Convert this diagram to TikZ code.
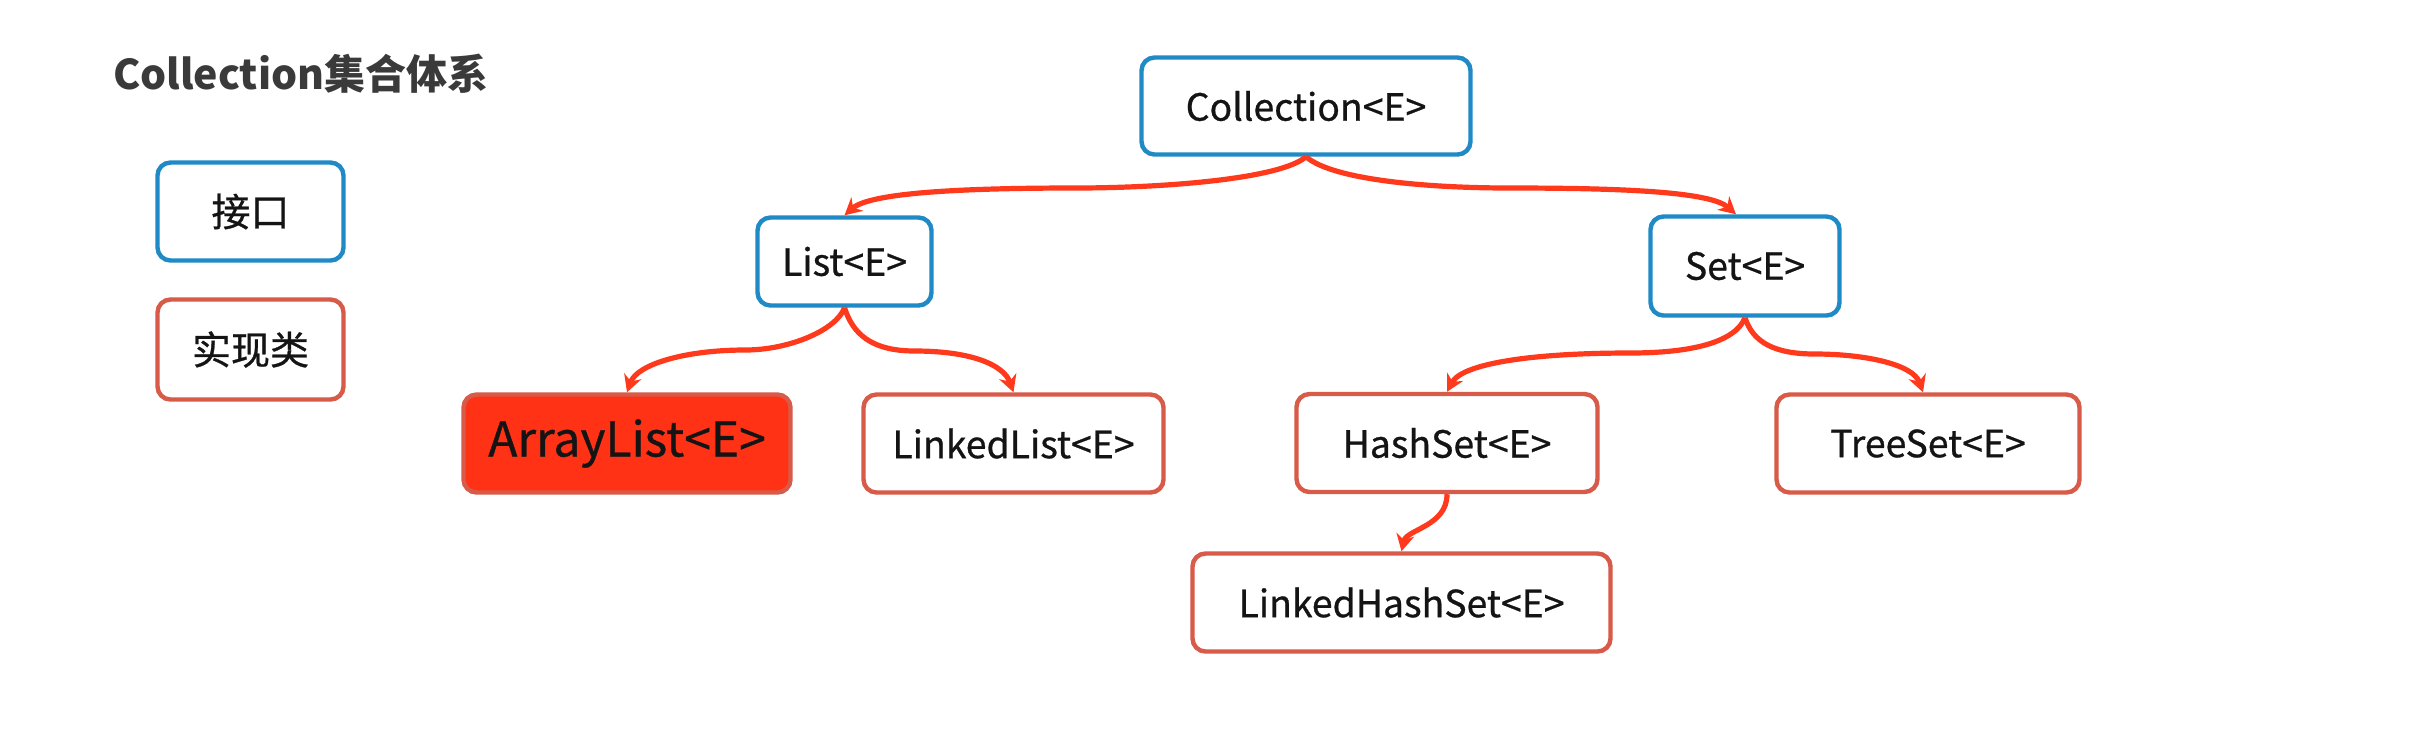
\documentclass[tikz,border=0pt]{standalone}
\usepackage{fontspec}
\setmainfont{Noto Sans CJK SC}
\newfontfamily\medfont[FakeBold=0.7]{Noto Sans CJK SC}
\usetikzlibrary{arrows.meta}
\definecolor{ifblue}{HTML}{1F8AC6}
\definecolor{implred}{HTML}{D85A48}
\definecolor{hotfill}{HTML}{FF3216}
\definecolor{arrred}{HTML}{FF3A1C}
\definecolor{titlegray}{HTML}{3A3A3A}
\definecolor{txt}{HTML}{141414}
\begin{document}
\begin{tikzpicture}[x=0.5pt,y=-0.5pt,
  box/.style={rounded corners=6.5pt, line width=2.2pt, inner sep=0pt, align=center,
    text=txt, font=\medfont\fontsize{18.7}{22}\selectfont, fill=white},
  iface/.style={box, draw=ifblue},
  impl/.style={box, draw=implred},
  hot/.style={box, draw=implred, fill=hotfill, font=\medfont\fontsize{24}{28}\selectfont},
  legend/.style={font=\medfont\fontsize{19.5}{23}\selectfont},
  arr/.style={draw=arrred, line width=2.6pt, -{Stealth[length=8.5pt,width=9pt]}}]
\fill[white] (0,0) rectangle (2434,736);
\useasboundingbox (0,0) rectangle (2434,736);

\node[anchor=base west, text=titlegray, font=\fontsize{20.5}{25}\selectfont\bfseries] (title) at (106,89) {Collection集合体系};

\node[iface, legend, minimum width=93pt, minimum height=49pt] (lgi) at (250.5,211.5) {接口};
\node[impl, legend, minimum width=93pt, minimum height=50pt] (lgc) at (250.5,349.5) {实现类};

\node[iface, minimum width=164.5pt, minimum height=48.5pt] (coll) at (1306,106) {Collection<E>};
\node[iface, minimum width=87pt, minimum height=44pt] (list) at (844.5,261.5) {List<E>};
\node[iface, minimum width=94.5pt, minimum height=49.5pt] (set) at (1745,266) {Set<E>};

\node[hot, minimum width=163.5pt, minimum height=49pt] (al) at (627,443.5) {ArrayList<E>};
\node[impl, minimum width=150pt, minimum height=49pt] (ll) at (1013.5,443.5) {LinkedList<E>};
\node[impl, minimum width=150.5pt, minimum height=49pt] (hs) at (1447,443) {HashSet<E>};
\node[impl, minimum width=151.5pt, minimum height=49pt] (ts) at (1928,443.5) {TreeSet<E>};
\node[impl, minimum width=209pt, minimum height=49pt] (lhs) at (1401.5,602.5) {LinkedHashSet<E>};

\coordinate (m1) at (1075,188);
\coordinate (m2) at (1510,188);
\coordinate (m3) at (745,350);
\coordinate (m4) at (915,351);
\coordinate (m5) at (1630,353);
\coordinate (m6) at (1815,354);

\draw[arr] (coll.south) .. controls +(-25,22) and +(90,0) .. (m1)
  .. controls +(-120,0) and +(25,-22) .. (list.north);
\draw[arr] (coll.south) .. controls +(25,22) and +(-90,0) .. (m2)
  .. controls +(120,0) and +(-25,-22) .. ([xshift=-4.5pt]set.north);
\draw[arr] (list.south) .. controls +(-8,22) and +(45,0) .. (m3)
  .. controls +(-60,0) and +(10,-28) .. (al.north);
\draw[arr] (list.south) .. controls +(8,25) and +(-45,0) .. (m4)
  .. controls +(55,0) and +(-10,-28) .. (ll.north);
\draw[arr] (set.south) .. controls +(-10,25) and +(60,0) .. (m5)
  .. controls +(-100,0) and +(15,-28) .. (hs.north);
\draw[arr] (set.south) .. controls +(8,25) and +(-40,0) .. (m6)
  .. controls +(50,0) and +(-10,-28) .. ([xshift=-2.5pt]ts.north);
\draw[arr] (hs.south) .. controls +(0,32) and +(5,-22) .. (lhs.north);
\end{tikzpicture}
\end{document}
